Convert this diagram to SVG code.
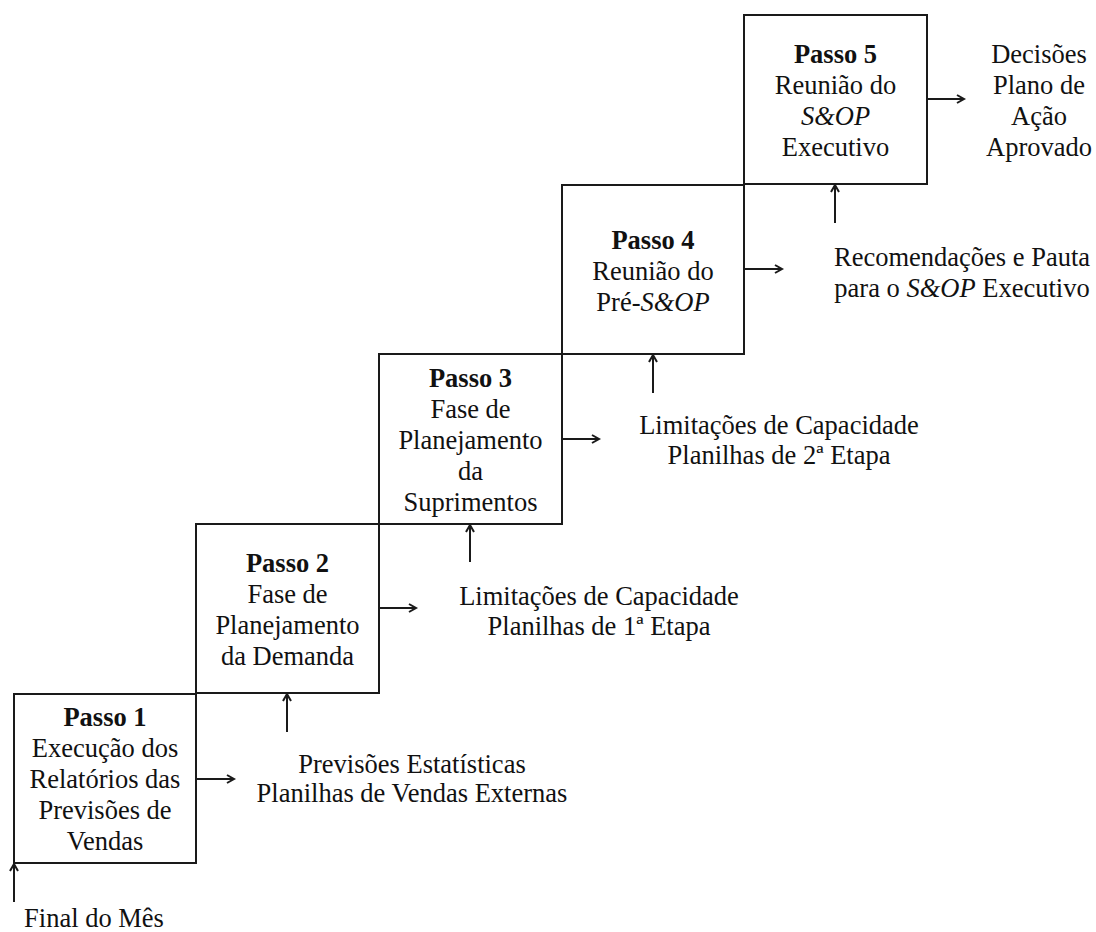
<svg xmlns="http://www.w3.org/2000/svg" width="1096" height="932" viewBox="0 0 1096 932">
  <style>
    .box { fill: none; stroke: #1a1a1a; stroke-width: 2; }
    .wire { fill: none; stroke: #1a1a1a; stroke-width: 2; marker-end: url(#arrow); }
    text { font-family: "Liberation Serif", "Times New Roman", serif; font-size: 26.5px; fill: #111; text-anchor: middle; }
    .title { font-weight: bold; }
    .it { font-style: italic; }
  </style>
  <defs>
    <marker id="arrow" markerUnits="userSpaceOnUse" markerWidth="12" markerHeight="12" refX="9" refY="5" orient="auto">
      <path d="M2,1 L9,5 L2,9" fill="none" stroke="#1a1a1a" stroke-width="2"/>
    </marker>
  </defs>

  <rect width="1096" height="932" fill="#ffffff"/>

  <!-- step boxes, climbing from bottom-left to top-right -->
  <g id="passo1">
    <rect class="box" x="14" y="694" width="182" height="169"/>
    <text x="105" y="726"><tspan class="title">Passo 1</tspan></text>
    <text x="105" y="757">Execução dos</text>
    <text x="105" y="788">Relatórios das</text>
    <text x="105" y="819">Previsões de</text>
    <text x="105" y="850">Vendas</text>
  </g>

  <g id="passo2">
    <rect class="box" x="196" y="524" width="183" height="169"/>
    <text x="287.5" y="572" class="title">Passo 2</text>
    <text x="287.5" y="603">Fase de</text>
    <text x="287.5" y="634">Planejamento</text>
    <text x="287.5" y="665">da Demanda</text>
  </g>

  <g id="passo3">
    <rect class="box" x="379" y="354" width="183" height="170"/>
    <text x="470.5" y="387" class="title">Passo 3</text>
    <text x="470.5" y="418">Fase de</text>
    <text x="470.5" y="449">Planejamento</text>
    <text x="470.5" y="480">da</text>
    <text x="470.5" y="511">Suprimentos</text>
  </g>

  <g id="passo4">
    <rect class="box" x="562" y="185" width="182" height="169"/>
    <text x="653" y="249" class="title">Passo 4</text>
    <text x="653" y="280">Reunião do</text>
    <text x="653" y="311">Pré-<tspan class="it">S&amp;OP</tspan></text>
  </g>

  <g id="passo5">
    <rect class="box" x="744" y="15" width="183" height="169"/>
    <text x="835.5" y="63" class="title">Passo 5</text>
    <text x="835.5" y="94">Reunião do</text>
    <text x="835.5" y="125" class="it">S&amp;OP</text>
    <text x="835.5" y="156">Executivo</text>
  </g>

  <!-- inputs and outputs -->
  <g id="final-mes">
    <text x="94" y="927">Final do Mês</text>
  </g>
  <g id="previsoes">
    <text x="412" y="773">Previsões Estatísticas</text>
    <text x="412" y="802">Planilhas de Vendas Externas</text>
  </g>
  <g id="limitacoes1">
    <text x="599" y="605">Limitações de Capacidade</text>
    <text x="599" y="635">Planilhas de 1ª Etapa</text>
  </g>
  <g id="limitacoes2">
    <text x="779" y="434">Limitações de Capacidade</text>
    <text x="779" y="464">Planilhas de 2ª Etapa</text>
  </g>
  <g id="recomendacoes">
    <text x="962" y="266">Recomendações e Pauta</text>
    <text x="962" y="297">para o <tspan class="it">S&amp;OP</tspan> Executivo</text>
  </g>
  <g id="decisoes">
    <text x="1039" y="63">Decisões</text>
    <text x="1039" y="94">Plano de</text>
    <text x="1039" y="125">Ação</text>
    <text x="1039" y="156">Aprovado</text>
  </g>

  <!-- connectors -->
  <g id="connectors">
    <line class="wire" x1="14" y1="902" x2="14" y2="864"/>
    <line class="wire" x1="196" y1="779" x2="234" y2="779"/>
    <line class="wire" x1="287" y1="732" x2="287" y2="694"/>
    <line class="wire" x1="379" y1="608" x2="416" y2="608"/>
    <line class="wire" x1="470" y1="562" x2="470" y2="525"/>
    <line class="wire" x1="562" y1="439" x2="599" y2="439"/>
    <line class="wire" x1="653" y1="393" x2="653" y2="355"/>
    <line class="wire" x1="744" y1="269" x2="782" y2="269"/>
    <line class="wire" x1="835" y1="223" x2="835" y2="185"/>
    <line class="wire" x1="927" y1="99" x2="964" y2="99"/>
  </g>
</svg>
